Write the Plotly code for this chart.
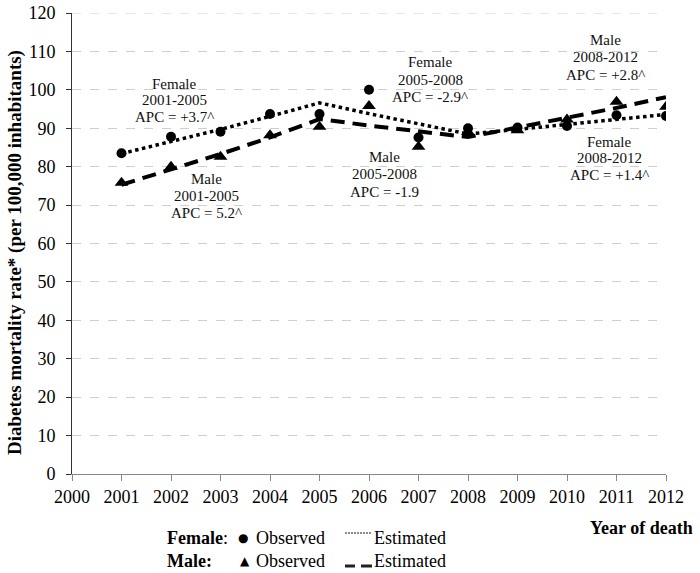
import plotly.graph_objects as go

# ---------------- data ----------------
years = [2001, 2002, 2003, 2004, 2005, 2006, 2007, 2008, 2009, 2010, 2011, 2012]
female_observed = [83.5, 87.8, 89.1, 93.7, 93.7, 100.0, 87.6, 90.0, 90.2, 90.6, 93.4, 93.2]
male_observed = [75.8, 80.0, 82.6, 88.2, 90.4, 95.8, 85.2, 89.0, 89.5, 92.3, 96.9, 95.6]
female_estimated = [83.4, 86.5, 89.7, 93.1, 96.6, 93.8, 91.1, 88.5, 89.7, 91.0, 92.3, 93.6]
male_estimated = [75.3, 79.2, 83.3, 87.6, 92.4, 90.7, 89.2, 87.7, 90.2, 92.7, 95.3, 98.1]

x_ticks = list(range(2000, 2013))
y_ticks = list(range(0, 121, 10))

apc_labels = [
    ["Female", "2001-2005", "APC = +3.7^"],
    ["Male", "2001-2005", "APC = 5.2^"],
    ["Female", "2005-2008", "APC = -2.9^"],
    ["Male", "2005-2008", "APC = -1.9"],
    ["Male", "2008-2012", "APC = +2.8^"],
    ["Female", "2008-2012", "APC = +1.4^"],
]

# ---------------- layout helpers (screen pixel -> paper) ----------------
W, H = 700, 573
X0, X1 = 72, 666             # plot area left/right
Y0, Y1 = 13, 474             # plot area top/bottom
L, R = X0, W - X1
T, B = Y0, H - Y1
PW, PH = X1 - X0, Y1 - Y0


def px(x):
    return (x - X0) / PW


def py(y):
    return (Y1 - y) / PH


FONT = "Liberation Serif, Times New Roman, serif"

fig = go.Figure()

fig.add_trace(go.Scatter(x=years, y=female_estimated, mode="lines",
                         line=dict(color="black", width=3.5, dash="dot"),
                         hoverinfo="skip", showlegend=False))
fig.add_trace(go.Scatter(x=years, y=male_estimated, mode="lines",
                         line=dict(color="black", width=4, dash="14px,8px"),
                         hoverinfo="skip", showlegend=False))
fig.add_trace(go.Scatter(x=years, y=female_observed, mode="markers",
                         marker=dict(symbol="circle", size=10, color="black"),
                         showlegend=False))
fig.add_trace(go.Scatter(x=years, y=male_observed, mode="markers",
                         marker=dict(symbol="triangle-up", size=12, color="black"),
                         showlegend=False))

annotations = []
apc_pos = [
    (174, [84, 100, 117]),
    (206, [179, 196, 213]),
    (430, [62, 80, 97]),
    (384, [157, 174, 192]),
    (605, [40, 57, 75]),
    (609, [142, 158, 175]),
]
for lines, (cx, ys) in zip(apc_labels, apc_pos):
    for txt, yy in zip(lines, ys):
        annotations.append(dict(text=txt, x=px(cx), y=py(yy), xref="paper", yref="paper",
                                xanchor="center", yanchor="middle", showarrow=False,
                                font=dict(family=FONT, size=15, color="#111")))

annotations.append(dict(text="<b>Diabetes mortality rate* (per 100,000 inhabitants)</b>",
                        x=px(15), y=py(253), xref="paper", yref="paper", textangle=-90,
                        xanchor="center", yanchor="middle", showarrow=False,
                        font=dict(family=FONT, size=19, color="black")))
annotations.append(dict(text="<b>Year of death</b>", x=px(695), y=py(528), xref="paper", yref="paper",
                        xanchor="right", yanchor="middle", showarrow=False,
                        font=dict(family=FONT, size=18, color="black")))

leg_font = dict(family=FONT, size=18, color="black")
rows = [
    (538, "<b>Female</b>:", "\u25cf", 243),
    (561, "<b>Male:</b>", "\u25b2", 245),
]
for yy, lab, sym, sx in rows:
    annotations.append(dict(text=lab, x=px(165), y=py(yy), xref="paper", yref="paper",
                            xanchor="left", yanchor="middle", showarrow=False, font=leg_font))
    annotations.append(dict(text=sym, x=px(sx), y=py(yy), xref="paper", yref="paper",
                            xanchor="center", yanchor="middle", showarrow=False,
                            font=dict(family="DejaVu Sans", size=12, color="black")))
    annotations.append(dict(text="Observed", x=px(254), y=py(yy), xref="paper", yref="paper",
                            xanchor="left", yanchor="middle", showarrow=False, font=leg_font))
    annotations.append(dict(text="Estimated", x=px(372), y=py(yy), xref="paper", yref="paper",
                            xanchor="left", yanchor="middle", showarrow=False, font=leg_font))

shapes = [
    dict(type="line", xref="paper", yref="paper", x0=px(345), x1=px(372), y0=py(533), y1=py(533),
         line=dict(color="#666", width=1.5, dash="2px,1px")),
    dict(type="line", xref="paper", yref="paper", x0=px(345), x1=px(355), y0=py(566), y1=py(566),
         line=dict(color="#222", width=3)),
    dict(type="line", xref="paper", yref="paper", x0=px(361), x1=px(372), y0=py(566), y1=py(566),
         line=dict(color="#222", width=3)),
    # top gridline at 120 (plotly omits grid at the range edge)
    dict(type="line", xref="paper", yref="y", x0=0, x1=1, y0=120, y1=120,
         line=dict(color="#cfcfcf", width=1, dash="dash"), layer="below"),
]

fig.update_layout(
    width=W, height=H,
    margin=dict(l=L, r=R, t=T, b=B, pad=0, autoexpand=False),
    paper_bgcolor="white", plot_bgcolor="white",
    annotations=annotations, shapes=shapes,
    font=dict(family=FONT, color="black"),
    showlegend=False,
)
fig.update_xaxes(range=[2000, 2012], tickvals=x_ticks, ticktext=[str(v) for v in x_ticks],
                 showline=True, linecolor="#888", linewidth=1, ticks="outside", ticklen=6,
                 tickcolor="#888", showgrid=False, zeroline=False, automargin=False,
                 tickfont=dict(family=FONT, size=18, color="black"))
fig.update_yaxes(range=[0, 120], tickvals=y_ticks, showline=True, linecolor="#333", linewidth=1,
                 ticks="outside", ticklen=5, tickcolor="#333", showgrid=True, gridcolor="#cfcfcf",
                 griddash="dash", gridwidth=1, zeroline=False, ticklabelstandoff=7, automargin=False,
                 ticklabeloverflow="allow",
                 tickfont=dict(family=FONT, size=18, color="black"))

fig.write_html("out.html", config={"displayModeBar": False},
               post_script="document.body.style.margin='0';document.body.style.overflow='hidden';")
